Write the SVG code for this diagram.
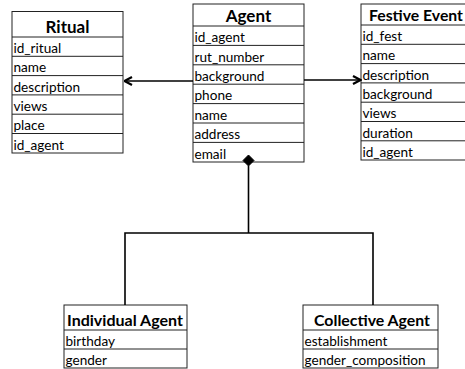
<svg xmlns="http://www.w3.org/2000/svg" width="465" height="369" viewBox="0 0 465 369">
<defs>
<style>
rect.b{fill:#fff;stroke:#222;stroke-width:1}
line.r{stroke:#222;stroke-width:1}
text{font-family:Lato,"Open Sans","Liberation Sans",sans-serif;fill:#000}
text.h{font-weight:bold;font-size:17px;text-anchor:middle}
text.s{font-size:16px}
text.f{font-size:13.6px}
.c{stroke:#000;stroke-width:1.6;fill:none}
</style>
<marker id="arr" viewBox="0 0 10 10" refX="9" refY="5" markerWidth="10" markerHeight="10" markerUnits="userSpaceOnUse" orient="auto">
<path d="M1.5,1 L9,5 L1.5,9" fill="none" stroke="#000" stroke-width="2.2"/>
</marker>
</defs>
<rect width="465" height="369" fill="#fff"/>
<g id="ritual">
<rect class="b" x="12" y="11.5" width="111" height="141.5"/>
<line class="r" x1="12" y1="37" x2="123" y2="37"/>
<line class="r" x1="12" y1="56.3" x2="123" y2="56.3"/>
<line class="r" x1="12" y1="75.6" x2="123" y2="75.6"/>
<line class="r" x1="12" y1="94.9" x2="123" y2="94.9"/>
<line class="r" x1="12" y1="114.2" x2="123" y2="114.2"/>
<line class="r" x1="12" y1="133.5" x2="123" y2="133.5"/>
<text class="h" x="67.5" y="32.5">Ritual</text>
<text class="f" x="13.5" y="53">id_ritual</text>
<text class="f" x="13.5" y="72.3">name</text>
<text class="f" x="13.5" y="91.6">description</text>
<text class="f" x="13.5" y="110.9">views</text>
<text class="f" x="13.5" y="130.2">place</text>
<text class="f" x="13.5" y="149.5">id_agent</text>
</g>
<g id="agent">
<rect class="b" x="193" y="4" width="111" height="158"/>
<line class="r" x1="193" y1="26" x2="304" y2="26"/>
<line class="r" x1="193" y1="45.4" x2="304" y2="45.4"/>
<line class="r" x1="193" y1="64.8" x2="304" y2="64.8"/>
<line class="r" x1="193" y1="84.2" x2="304" y2="84.2"/>
<line class="r" x1="193" y1="103.6" x2="304" y2="103.6"/>
<line class="r" x1="193" y1="123" x2="304" y2="123"/>
<line class="r" x1="193" y1="142.4" x2="304" y2="142.4"/>
<text class="h" x="248.5" y="21.5">Agent</text>
<text class="f" x="194.5" y="42.2">id_agent</text>
<text class="f" x="194.5" y="61.6">rut_number</text>
<text class="f" x="194.5" y="81">background</text>
<text class="f" x="194.5" y="100.4">phone</text>
<text class="f" x="194.5" y="119.8">name</text>
<text class="f" x="194.5" y="139.2">address</text>
<text class="f" x="194.5" y="158.6">email</text>
</g>
<g id="festive-event">
<rect class="b" x="361" y="4" width="115" height="156"/>
<line class="r" x1="361" y1="25" x2="476" y2="25"/>
<line class="r" x1="361" y1="44.3" x2="476" y2="44.3"/>
<line class="r" x1="361" y1="63.6" x2="476" y2="63.6"/>
<line class="r" x1="361" y1="82.9" x2="476" y2="82.9"/>
<line class="r" x1="361" y1="102.2" x2="476" y2="102.2"/>
<line class="r" x1="361" y1="121.5" x2="476" y2="121.5"/>
<line class="r" x1="361" y1="140.8" x2="476" y2="140.8"/>
<text class="h s" x="416" y="20.5" textLength="94" lengthAdjust="spacingAndGlyphs">Festive Event</text>
<text class="f" x="362.5" y="41">id_fest</text>
<text class="f" x="362.5" y="60.3">name</text>
<text class="f" x="362.5" y="79.6">description</text>
<text class="f" x="362.5" y="98.9">background</text>
<text class="f" x="362.5" y="118.2">views</text>
<text class="f" x="362.5" y="137.5">duration</text>
<text class="f" x="362.5" y="156.8">id_agent</text>
</g>
<g id="individual-agent">
<rect class="b" x="64" y="305" width="123" height="63"/>
<line class="r" x1="64" y1="330" x2="187" y2="330"/>
<line class="r" x1="64" y1="349" x2="187" y2="349"/>
<text class="h s" x="125" y="325.5" textLength="116" lengthAdjust="spacingAndGlyphs">Individual Agent</text>
<text class="f" x="65.5" y="345.5">birthday</text>
<text class="f" x="65.5" y="364.5">gender</text>
</g>
<g id="collective-agent">
<rect class="b" x="303" y="305" width="135" height="63"/>
<line class="r" x1="303" y1="330" x2="438" y2="330"/>
<line class="r" x1="303" y1="349" x2="438" y2="349"/>
<text class="h s" x="372" y="325.5" textLength="116" lengthAdjust="spacingAndGlyphs">Collective Agent</text>
<text class="f" x="304.5" y="345.5">establishment</text>
<text class="f" x="304.5" y="364.5">gender_composition</text>
</g>
<g id="connectors">
<line class="c" x1="193" y1="81" x2="124.5" y2="81" marker-end="url(#arr)"/>
<line class="c" x1="304" y1="80" x2="360.5" y2="80" marker-end="url(#arr)"/>
<polyline class="c" points="248.5,166 248.5,233"/>
<polyline class="c" points="125,305 125,233 373,233 373,305"/>
<path d="M248.5,155 L254,160.5 L248.5,166 L243,160.5 Z" fill="#000" stroke="#000" stroke-width="1"/>
</g>
</svg>
